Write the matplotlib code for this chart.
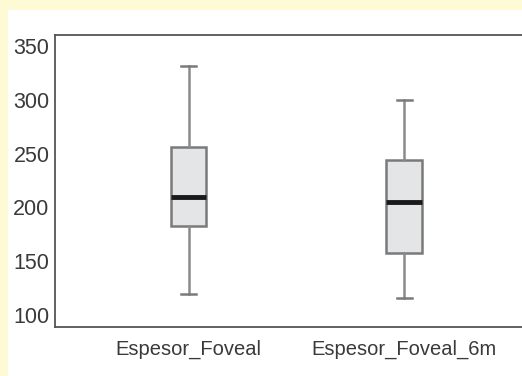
import matplotlib.pyplot as plt
from matplotlib.patches import Rectangle

plt.rcParams['font.family'] = ['Liberation Sans', 'DejaVu Sans']

labels = ['Espesor_Foveal', 'Espesor_Foveal_6m']
whislo = [120, 116]
q1 = [183, 158]
med = [210, 205]
q3 = [256, 244]
whishi = [331, 300]
yticks = [100, 150, 200, 250, 300, 350]

stats = []
for i in range(len(labels)):
    stats.append({'label': labels[i], 'whislo': whislo[i], 'q1': q1[i], 'med': med[i],
                  'q3': q3[i], 'whishi': whishi[i], 'fliers': []})

fig = plt.figure(figsize=(5.22, 3.76), dpi=100, facecolor='#fffad6')
# white panel inside the yellow frame
fig.patches.append(Rectangle((8 / 522, 0), 1, 366 / 376, transform=fig.transFigure,
                             facecolor='white', edgecolor='none', zorder=-10))

ax = fig.add_axes([55 / 522, 1 - 327 / 376, 1.03 - 55 / 522, (327 - 35) / 376])
ax.set_facecolor('white')

ax.bxp(stats, positions=[1, 2], widths=0.164, capwidths=0.07, patch_artist=True,
       showfliers=False,
       boxprops=dict(facecolor='#e4e5e7', edgecolor='#7a7a7a', linewidth=1.8),
       whiskerprops=dict(color='#8a8a8a', linewidth=1.8),
       capprops=dict(color='#7a7a7a', linewidth=1.8),
       medianprops=dict(color='#1a1a1a', linewidth=3.5))

ax.set_xlim(0.38, 2.62)
ax.set_ylim(89, 360)
ax.set_yticks(yticks)
ax.tick_params(axis='both', length=0, colors='#3a3a3a')
ax.tick_params(axis='y', pad=4, labelsize=15.5)
ax.tick_params(axis='x', pad=9, labelsize=14.5)
for s in ax.spines.values():
    s.set_color('#555555')
    s.set_linewidth(1.3)

fig.savefig('out.png', dpi=100, facecolor=fig.get_facecolor())
